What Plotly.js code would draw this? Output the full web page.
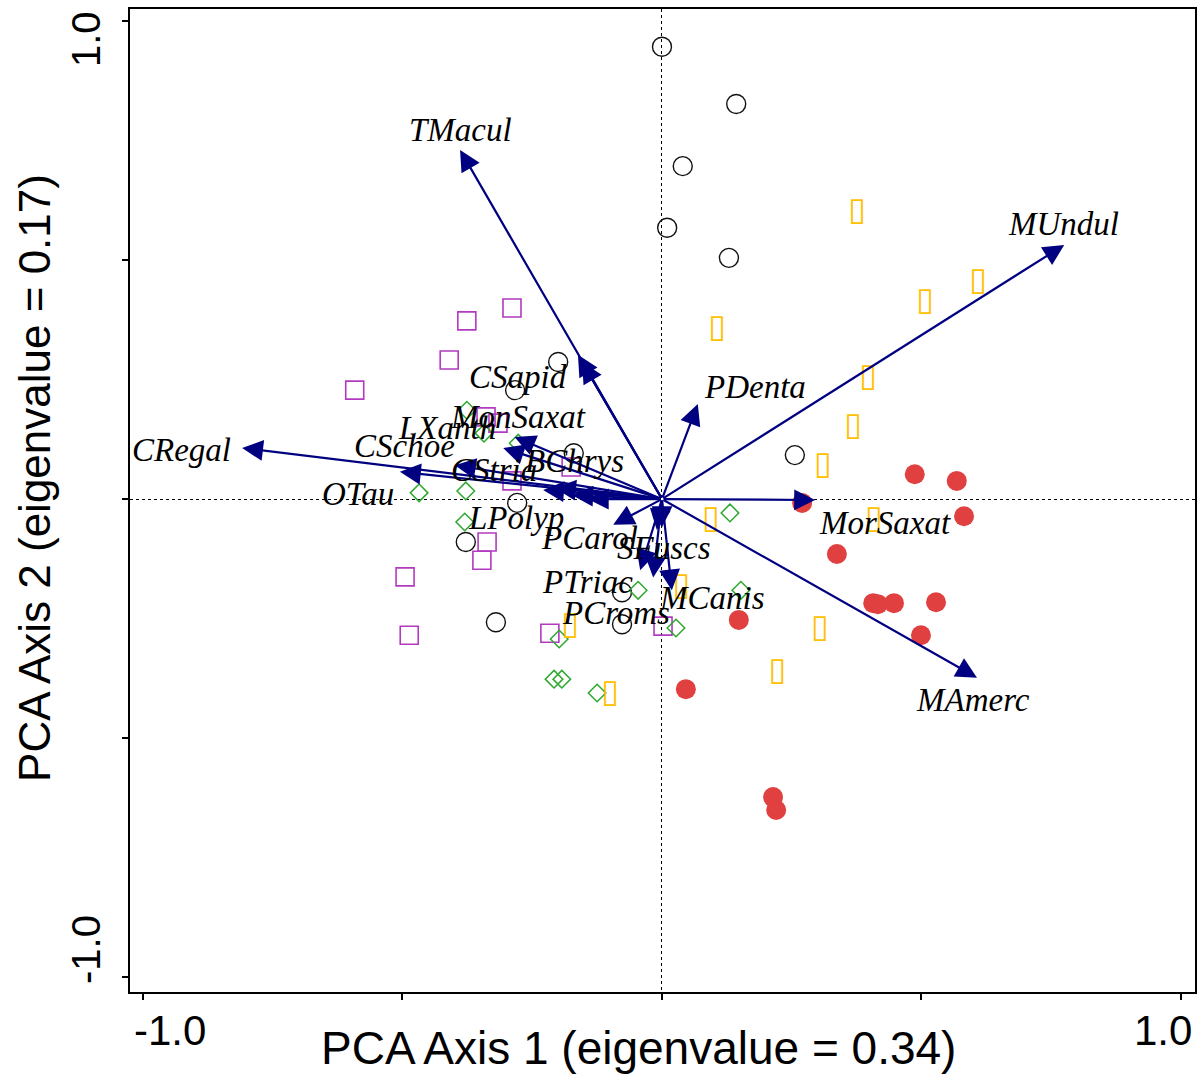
<!DOCTYPE html>
<html>
<head>
<meta charset="utf-8">
<script src="https://cdn.plot.ly/plotly-3.0.1.min.js"></script>
<style>html,body{margin:0;padding:0;background:#fff;}#chart{width:1200px;height:1074px;}</style>
</head>
<body>
<div id="chart"></div>
<script>
// ---- Species arrows (tips; tails at the origin) ----
const arrowX = [-0.389, 0.775, -0.809, 0.607, 0.069, 0.295, -0.162, -0.154, -0.284, -0.306, -0.399, -0.505, -0.229, -0.206, -0.173, -0.143, -0.094, -0.042, -0.017, 0.019, -0.010, 0.000];
const arrowY = [0.731, 0.532, 0.107, -0.374, 0.199, -0.002, 0.302, 0.287, 0.130, 0.107, 0.071, 0.057, 0.019, 0.023, 0.008, 0.000, -0.054, -0.149, -0.164, -0.191, -0.065, -0.059];

// ---- Species labels ----
const labelNames = ["TMacul", "MUndul", "CRegal", "MAmerc", "PDenta", "MorSaxat", "CSapid", "MonSaxat", "LXanth", "CSchoe", "BChrys", "CStria", "OTau", "LPolyp", "PCarol", "SFuscs", "PTriac", "PCroms", "MCanis"];
const labelX = [-0.389, 0.773, -0.925, 0.599, 0.179, 0.430, -0.277, -0.277, -0.414, -0.497, -0.168, -0.324, -0.586, -0.281, -0.139, 0.004, -0.143, -0.089, 0.096];
const labelY = [0.773, 0.576, 0.103, -0.421, 0.235, -0.050, 0.255, 0.172, 0.149, 0.111, 0.080, 0.061, 0.010, -0.040, -0.082, -0.103, -0.174, -0.239, -0.207];

// ---- Sample scores, five groups ----
const circX = [0.000, 0.143, 0.040, 0.010, 0.129, -0.200, -0.283, -0.170, 0.256, -0.279, -0.378, -0.320, -0.077, -0.077];
const circY = [0.947, 0.827, 0.697, 0.568, 0.505, 0.287, 0.228, 0.096, 0.092, -0.008, -0.090, -0.258, -0.195, -0.262];

const sqX = [-0.289, -0.376, -0.410, -0.592, -0.339, -0.316, -0.175, -0.289, -0.337, -0.347, -0.495, -0.487, -0.216, 0.002];
const sqY = [0.400, 0.373, 0.291, 0.228, 0.172, 0.159, 0.067, 0.038, -0.090, -0.128, -0.163, -0.285, -0.281, -0.266];

const diaX = [-0.376, -0.343, -0.277, -0.468, -0.378, -0.380, -0.046, 0.131, 0.152, 0.027, -0.198, -0.208, -0.193, -0.125];
const diaY = [0.186, 0.138, 0.117, 0.013, 0.017, -0.048, -0.191, -0.029, -0.191, -0.270, -0.293, -0.377, -0.377, -0.406];

const rectX = [0.376, 0.609, 0.507, 0.106, 0.397, 0.368, 0.310, 0.094, 0.408, 0.304, 0.222, 0.037, -0.177, -0.100];
const rectY = [0.601, 0.454, 0.413, 0.356, 0.253, 0.151, 0.069, -0.044, -0.044, -0.272, -0.362, -0.184, -0.266, -0.408];

const dotX = [0.487, 0.568, 0.582, 0.270, 0.337, 0.407, 0.416, 0.447, 0.528, 0.499, 0.148, 0.046, 0.214, 0.220];
const dotY = [0.052, 0.038, -0.036, -0.008, -0.115, -0.218, -0.220, -0.218, -0.216, -0.285, -0.253, -0.398, -0.624, -0.651];

// ---- Axis ticks and titles ----
const tickVals = [-1, -0.5, 0, 0.5, 1];
const xTickText = ["-1.0", "1.0"];
const xTickPos = [-0.948, 0.965];
const yTickText = ["1.0", "-1.0"];
const yTickPos = [0.963, -0.944];
const xTitle = "PCA Axis 1 (eigenvalue = 0.34)";
const yTitle = "PCA Axis 2 (eigenvalue = 0.17)";

const NAVY = "#000080";
const serif = "Liberation Serif, Times New Roman, serif";
const sans = "Liberation Sans, Arial, sans-serif";

const traces = [
  {x: circX, y: circY, mode: "markers", type: "scatter",
   marker: {symbol: "circle-open", size: 19, color: "#111111", line: {width: 1.4}}},
  {x: sqX, y: sqY, mode: "markers", type: "scatter",
   marker: {symbol: "square-open", size: 18, color: "#B23AC0", line: {width: 1.6}}},
  {x: diaX, y: diaY, mode: "markers", type: "scatter",
   marker: {symbol: "diamond-open", size: 13.5, color: "#2EA82E", line: {width: 1.5}}},
  {x: rectX, y: rectY, mode: "text", type: "scatter", text: rectX.map(() => "\u25AF"),
   textposition: "middle center", textfont: {family: "DejaVu Sans", size: 32, color: "#FFC000"}},
  {x: dotX, y: dotY, mode: "markers", type: "scatter",
   marker: {symbol: "circle", size: 20, color: "#E04040"}}
];

const annotations = [];
for (let i = 0; i < arrowX.length; i++) {
  annotations.push({x: arrowX[i], y: arrowY[i], xref: "x", yref: "y", ax: 0, ay: 0, axref: "x", ayref: "y",
    text: "", showarrow: true, arrowhead: 2, arrowsize: 1.9, arrowwidth: 2.2, arrowcolor: NAVY, standoff: 0, startstandoff: 0});
}
for (let i = 0; i < labelNames.length; i++) {
  annotations.push({x: labelX[i], y: labelY[i], xref: "x", yref: "y", text: "<i>" + labelNames[i] + "</i>",
    showarrow: false, font: {family: serif, size: 33, color: "#000"}, xanchor: "center", yanchor: "middle"});
}
for (let i = 0; i < xTickText.length; i++) {
  annotations.push({x: xTickPos[i], y: -0.0387, xref: "x", yref: "paper", text: xTickText[i], showarrow: false,
    font: {family: sans, size: 42, color: "#000"}, xanchor: "center", yanchor: "middle"});
}
for (let i = 0; i < yTickText.length; i++) {
  annotations.push({x: -0.0413, y: yTickPos[i], xref: "paper", yref: "y", text: yTickText[i], showarrow: false,
    textangle: -90, font: {family: sans, size: 40, color: "#000"}, xanchor: "center", yanchor: "middle"});
}
// axis titles
annotations.push({x: 0.477, y: -0.057, xref: "paper", yref: "paper", text: xTitle, showarrow: false,
  font: {family: sans, size: 46, color: "#000"}, xanchor: "center", yanchor: "middle"});
annotations.push({x: -0.0892, y: 0.523, xref: "paper", yref: "paper", text: yTitle, showarrow: false, textangle: -90,
  font: {family: sans, size: 44, color: "#000"}, xanchor: "center", yanchor: "middle"});

const axisCommon = {
  showline: true, mirror: true, linecolor: "#000", linewidth: 2,
  zeroline: false, showticklabels: false,
  tickmode: "array", tickvals: [0], ticks: "",
  showgrid: true, gridcolor: "#000", gridwidth: 1, griddash: "dot",
  minor: {tickmode: "array", tickvals: tickVals, ticks: "outside", ticklen: 6, tickwidth: 2, tickcolor: "#000", showgrid: false}
};

const layout = {
  width: 1200, height: 1074,
  margin: {l: 130, r: 5, t: 9, b: 82},
  paper_bgcolor: "#fff", plot_bgcolor: "#fff",
  showlegend: false,
  xaxis: Object.assign({}, axisCommon, {range: [-1.025, 1.027]}),
  yaxis: Object.assign({}, axisCommon, {range: [-1.032, 1.026]}),
  annotations: annotations
};

Plotly.newPlot("chart", traces, layout, {displayModeBar: false, staticPlot: true});
</script>
</body>
</html>
